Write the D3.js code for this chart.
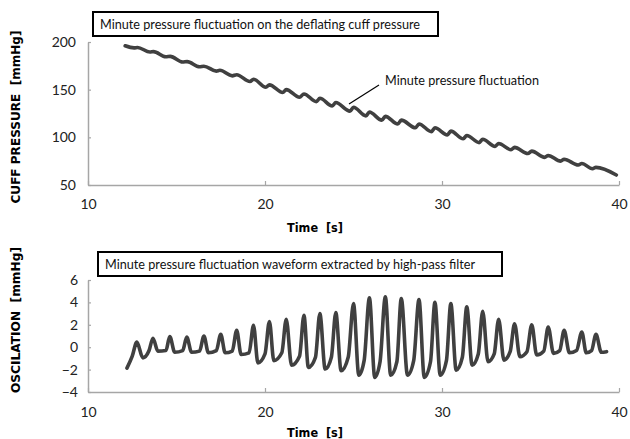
<!DOCTYPE html>
<html>
<head>
<meta charset="utf-8">
<script src="https://cdn.jsdelivr.net/npm/d3@7"></script>
<style>
  body { margin: 0; background: #fff; }
  text { font-family: Lato, "Open Sans", sans-serif; }
</style>
</head>
<body>
<script>
// cuff pressure trace (s, mmHg): low point then bump of each beat
const cuffTime = [12.1, 12.6, 12.8, 13.5, 13.7, 14.4, 14.65, 15.35, 15.6, 16.3, 16.55,
    17.25, 17.45, 18.15, 18.4, 19.15, 19.35, 20.05, 20.25, 21.0, 21.2, 21.95, 22.2,
    22.9, 23.1, 23.8, 24.0, 24.8, 25.0, 25.7, 25.9, 26.6, 26.8, 27.5, 27.7, 28.5, 28.7,
    29.4, 29.6, 30.3, 30.5, 31.2, 31.4, 32.1, 32.3, 33.0, 33.2, 33.9, 34.1, 34.85, 35.07,
    35.8, 36.0, 36.7, 36.9, 37.7, 37.9, 38.5, 38.7, 39.85]
const cuffValue = [196, 193.8, 194.3, 189.5, 189.9, 184.5, 184.9, 179, 179.4, 174, 174.6,
    169.5, 170.3, 164.5, 165.7, 158.5, 161, 152.5, 155, 147, 150, 142, 145.5,
    137.5, 141, 133, 136.5, 127.5, 131.5, 122.5, 126.5, 118, 122, 114, 118, 110, 114,
    106, 110, 102.5, 106.5, 98.5, 102, 94.5, 98, 90.5, 93.5, 87, 89.5, 83, 85.5,
    79, 81, 75, 77, 71, 72.5, 67, 68.5, 60.5]

// oscillation waveform, per beat: peak, trough after it, knee before the next peak
const peakTime = [12.76, 13.67, 14.62, 15.58, 16.55, 17.5, 18.4, 19.35, 20.25, 21.2,
    22.2, 23.1, 24.0, 25.0, 25.9, 26.8, 27.7, 28.7, 29.6, 30.5, 31.4, 32.3, 33.2, 34.1,
    35.07, 36.0, 36.9, 37.9, 38.7]
const peakValue = [0.45, 0.8, 0.95, 0.9, 1.0, 1.15, 1.5, 1.95, 2.3, 2.5,
    2.85, 3.0, 3.1, 3.9, 4.4, 4.5, 4.35, 4.25, 4.0, 3.9, 3.6, 3.2, 2.5, 2.1,
    2.0, 1.8, 1.5, 1.35, 1.15]
const troughTime = [13.1, 13.95, 14.9, 15.85, 16.8, 17.75, 18.65, 19.6, 20.5, 21.5,
    22.45, 23.4, 24.3, 25.3, 26.2, 27.1, 28.05, 29.0, 29.9, 30.8, 31.7, 32.6, 33.5, 34.4,
    35.35, 36.3, 37.2, 38.15, 39.0]
const troughValue = [-0.95, -0.35, -0.45, -0.45, -0.5, -0.5, -0.65, -1.4, -1.2, -1.6,
    -1.8, -1.95, -2.1, -2.5, -2.7, -2.5, -2.5, -2.7, -2.5, -2.05, -1.6, -1.3, -1.15, -0.85,
    -0.7, -0.55, -0.5, -0.5, -0.45]
const kneeTime = [12.5, 13.45, 14.4, 15.35, 16.3, 17.25, 18.15, 19.1, 20.0, 20.95,
    21.95, 22.85, 23.75, 24.7, 25.6, 26.5, 27.45, 28.4, 29.35, 30.25, 31.15, 32.05, 32.95,
    33.85, 34.8, 35.75, 36.65, 37.6, 38.45]
const kneeValue = [-0.8, -0.3, -0.3, -0.3, -0.35, -0.3, -0.35, -0.5, -0.6, -0.5,
    -0.8, -0.9, -0.9, -0.9, -1.2, -1.3, -1.3, -1.2, -1.3, -1.2, -0.9, -0.6, -0.6,
    -0.4, -0.4, -0.35, -0.3, -0.3, -0.3]
const oscStart = [12.2, -1.87]
const oscEnd = [39.3, -0.4]

const timeTicks = [10, 20, 30, 40]
const cuffTicks = [50, 100, 150, 200]
const oscTicks = [-4, -2, 0, 2, 4, 6]

const WIDTH = 630
const HEIGHT = 439
const LINE = "#404040"
const AXIS = "#a6a6a6"

const svg = d3.select("body").append("svg")
    .attr("width", WIDTH)
    .attr("height", HEIGHT)

const x = d3.scaleLinear().domain([10, 40]).range([88, 619])
const yCuff = d3.scaleLinear().domain([50, 200]).range([185, 42])
const yOsc = d3.scaleLinear().domain([-4, 6]).range([392, 280])

function drawAxes(y, ticks, xPad, yPad) {
    const gx = svg.append("g")
        .attr("transform", `translate(0,${y.range()[0]})`)
        .call(d3.axisBottom(x).tickValues(timeTicks).tickSizeInner(-4)
            .tickSizeOuter(0).tickPadding(xPad))
    const gy = svg.append("g")
        .attr("transform", `translate(${x.range()[0]},0)`)
        .call(d3.axisLeft(y).tickValues(ticks).tickSizeInner(-3)
            .tickSizeOuter(0).tickPadding(yPad))
    ;[gx, gy].forEach(g => {
        g.select(".domain").attr("stroke", AXIS).attr("stroke-width", 1.5)
        g.selectAll(".tick line").attr("stroke", AXIS).attr("stroke-width", 1.2)
        g.selectAll(".tick text")
            .attr("fill", "#222")
            .style("font-size", "14px")
            .style("font-family", "Lato, sans-serif")
    })
}

drawAxes(yCuff, cuffTicks, 14, 12)
drawAxes(yOsc, oscTicks, 15, 10)

// cuff pressure line
const cuffData = cuffTime.map((t, i) => [t, cuffValue[i]])
svg.append("path")
    .datum(cuffData)
    .attr("fill", "none")
    .attr("stroke", LINE)
    .attr("stroke-width", 3.6)
    .attr("stroke-linejoin", "round")
    .attr("stroke-linecap", "round")
    .attr("d", d3.line().x(d => x(d[0])).y(d => yCuff(d[1])).curve(d3.curveMonotoneX))

// oscillation line
const oscData = [oscStart]
peakTime.forEach((t, i) => {
    oscData.push([kneeTime[i], kneeValue[i]])
    oscData.push([t, peakValue[i]])
    oscData.push([troughTime[i], troughValue[i]])
})
oscData.push(oscEnd)

svg.append("path")
    .datum(oscData)
    .attr("fill", "none")
    .attr("stroke", LINE)
    .attr("stroke-width", 3.6)
    .attr("stroke-linejoin", "round")
    .attr("stroke-linecap", "round")
    .attr("d", d3.line().x(d => x(d[0])).y(d => yOsc(d[1])).curve(d3.curveMonotoneX))

// title boxes
function titleBox(x0, y0, w, h, label, textW) {
    svg.append("rect")
        .attr("x", x0).attr("y", y0).attr("width", w).attr("height", h)
        .attr("fill", "#fff").attr("stroke", "#000").attr("stroke-width", 2)
    svg.append("text")
        .attr("x", x0 + 7).attr("y", y0 + h / 2 + 5)
        .attr("textLength", textW)
        .attr("lengthAdjust", "spacingAndGlyphs")
        .style("font-size", "14px")
        .attr("fill", "#111")
        .text(label)
}
titleBox(93, 12, 345, 24, "Minute pressure fluctuation on the deflating cuff pressure", 320)
titleBox(98, 252, 404, 24, "Minute pressure fluctuation waveform extracted by high-pass filter", 370)

// annotation
svg.append("line")
    .attr("x1", 379).attr("y1", 85).attr("x2", 349).attr("y2", 104)
    .attr("stroke", "#000").attr("stroke-width", 1.2)
svg.append("text")
    .attr("x", 385).attr("y", 85)
    .attr("textLength", 154)
    .attr("lengthAdjust", "spacingAndGlyphs")
    .style("font-size", "14px")
    .attr("fill", "#111")
    .text("Minute pressure fluctuation")

// axis titles
function boldText(tx, ty, rot, label, len) {
    svg.append("text")
        .attr("transform", `translate(${tx},${ty}) rotate(${rot})`)
        .attr("text-anchor", "middle")
        .attr("textLength", len)
        .attr("lengthAdjust", "spacingAndGlyphs")
        .style("font-family", "'DejaVu Sans', sans-serif")
        .style("font-weight", "bold")
        .style("font-size", "12.5px")
        .style("white-space", "pre")
        .attr("fill", "#000")
        .text(label)
}
boldText(20, 117, -90, "CUFF PRESSURE  [mmHg]", 173)
boldText(20, 320, -90, "OSCILATION  [mmHg]", 146)
boldText(315, 232, 0, "Time  [s]", 56)
boldText(315, 437, 0, "Time  [s]", 56)
</script>
</body>
</html>
